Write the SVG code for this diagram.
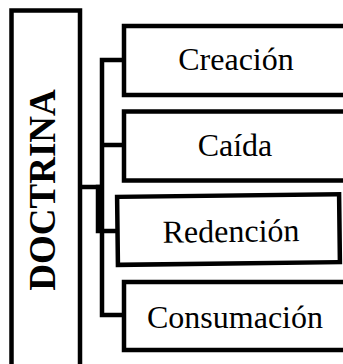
<svg xmlns="http://www.w3.org/2000/svg" width="343" height="364" viewBox="0 0 343 364">
<style>
.box{fill:#fff;stroke:#000;stroke-width:4.5}
.lbl{font-family:"Liberation Serif","Times New Roman",serif;font-size:32px;fill:#000;text-anchor:middle}
.title{font-family:"Liberation Serif","Times New Roman",serif;font-size:37px;font-weight:bold;fill:#000;text-anchor:middle}
.con{fill:none;stroke:#000;stroke-width:4.5;stroke-linecap:square}
</style>
<rect width="343" height="364" fill="#fff"/>
<g id="connectors">
<path class="con" d="M102,60 V315 M102,60 H124 M102,145 H124 M80,187 H102 M102,231 H117 M102,315 H124"/>
<path class="con" d="M98,187 V231"/>
</g>
<g id="doctrina">
<rect class="box" x="11.5" y="10.5" width="68.5" height="370"/>
<text class="title" transform="translate(55,190) rotate(-90)" x="0" y="0">DOCTRINA</text>
</g>
<g id="creacion">
<rect class="box" x="124" y="26" width="240" height="69"/>
<text class="lbl" x="236" y="70">Creación</text>
</g>
<g id="caida">
<rect class="box" x="124" y="111.5" width="240" height="69"/>
<text class="lbl" x="235" y="156">Caída</text>
</g>
<g id="redencion" transform="rotate(-0.7 229 229)">
<rect class="box" x="117.5" y="195.5" width="222" height="68"/>
<text class="lbl" x="231" y="242">Redención</text>
</g>
<g id="consumacion">
<rect class="box" x="124" y="282" width="240" height="68"/>
<text class="lbl" x="235" y="328">Consumación</text>
</g>
</svg>
